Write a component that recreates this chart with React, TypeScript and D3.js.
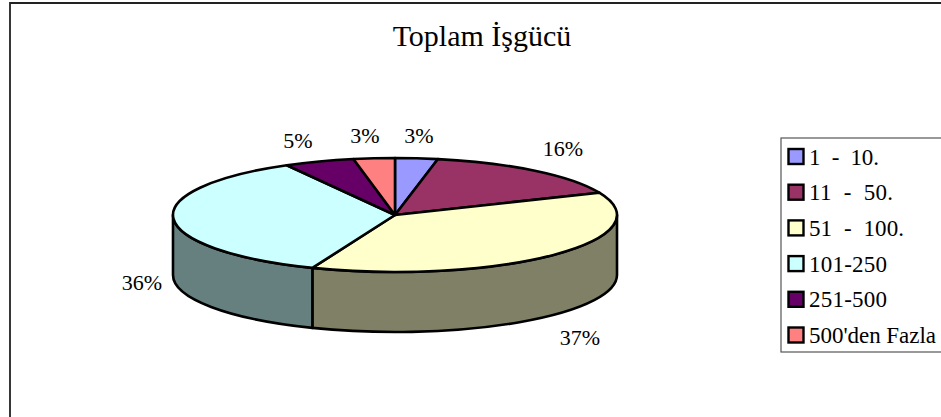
import React from "react";
import * as d3 from "d3";

const categories = ["1  -  10.", "11  -  50.", "51  -  100.", "101-250", "251-500", "500'den Fazla"];
const values = [3.1, 15.5, 37.47, 35.83, 5.1, 3];
const topColors = ["#9999FF", "#993366", "#FFFFCC", "#CCFFFF", "#660066", "#FF8080"];
const sideColors = ["#4C4C80", "#4C1933", "#808066", "#668080", "#330033", "#804040"];
const labelPositions = [
  [419, 143], [563, 156], [580, 345], [142, 290], [298, 148], [365, 143],
];
const legendWidths = [70, 84, 95, 78, 78, 127];

const FONT = "'Liberation Serif', 'Times New Roman', serif";
const cx = 395, cy = 215, rx = 222, ry = 57, depth = 60;

const pie = d3.pie<number>().sort(null).startAngle(0).endAngle(2 * Math.PI);
const arcs = pie(values);

const px = (a: number) => cx + rx * Math.sin(a);
const py = (a: number) => cy - ry * Math.cos(a);

function topPath(a0: number, a1: number) {
  const large = a1 - a0 > Math.PI ? 1 : 0;
  return `M${cx},${cy}L${px(a0)},${py(a0)}A${rx},${ry} 0 ${large} 1 ${px(a1)},${py(a1)}Z`;
}
function sidePath(a0: number, a1: number) {
  return `M${px(a0)},${py(a0)}A${rx},${ry} 0 0 1 ${px(a1)},${py(a1)}L${px(a1)},${py(a1) + depth}A${rx},${ry} 0 0 0 ${px(a0)},${py(a0) + depth}Z`;
}

const legendY = d3.scalePoint<string>().domain(categories).range([156.5, 335]);

export default function App() {
  const frontStart = Math.PI / 2, frontEnd = (3 * Math.PI) / 2;
  return (
    <svg width={941} height={417} style={{ position: "absolute", left: 0, top: 0 }} fontFamily={FONT}>
      <rect width={941} height={417} fill="#fff" />
      <path d="M10,417V3H941" fill="none" stroke="#222" strokeWidth={1.8} />
      <text x={482} y={46} textAnchor="middle" fontSize={30} fill="#000">Toplam İşgücü</text>

      {arcs.map((d, i) => {
        const a0 = Math.max(d.startAngle, frontStart);
        const a1 = Math.min(d.endAngle, frontEnd);
        if (a1 <= a0) return null;
        return <path key={i} d={sidePath(a0, a1)} fill={sideColors[i]} stroke="#000" strokeWidth={2.6} strokeLinejoin="round" />;
      })}
      {arcs.map((d, i) => (
        <path key={i} d={topPath(d.startAngle, d.endAngle)} fill={topColors[i]} stroke="#000" strokeWidth={2.6} strokeLinejoin="round" />
      ))}
      {arcs.map((d, i) => (
        <text key={i} x={labelPositions[i][0]} y={labelPositions[i][1]} textAnchor="middle" fontSize={22} fill="#000">
          {Math.round(values[i])}%
        </text>
      ))}

      <rect x={781} y={138} width={200} height={214} fill="#fff" stroke="#555" strokeWidth={1.2} />
      {categories.map((c, i) => {
        const y = legendY(c)!;
        return (
          <g key={c}>
            <rect x={788.5} y={y - 7.5} width={15} height={15} fill={topColors[i]} stroke="#000" strokeWidth={2.4} />
            <text x={809} y={y + 8} fontSize={23} fill="#000" textLength={legendWidths[i]} lengthAdjust="spacing" style={{ whiteSpace: "pre" }}>{c}</text>
          </g>
        );
      })}
    </svg>
  );
}
